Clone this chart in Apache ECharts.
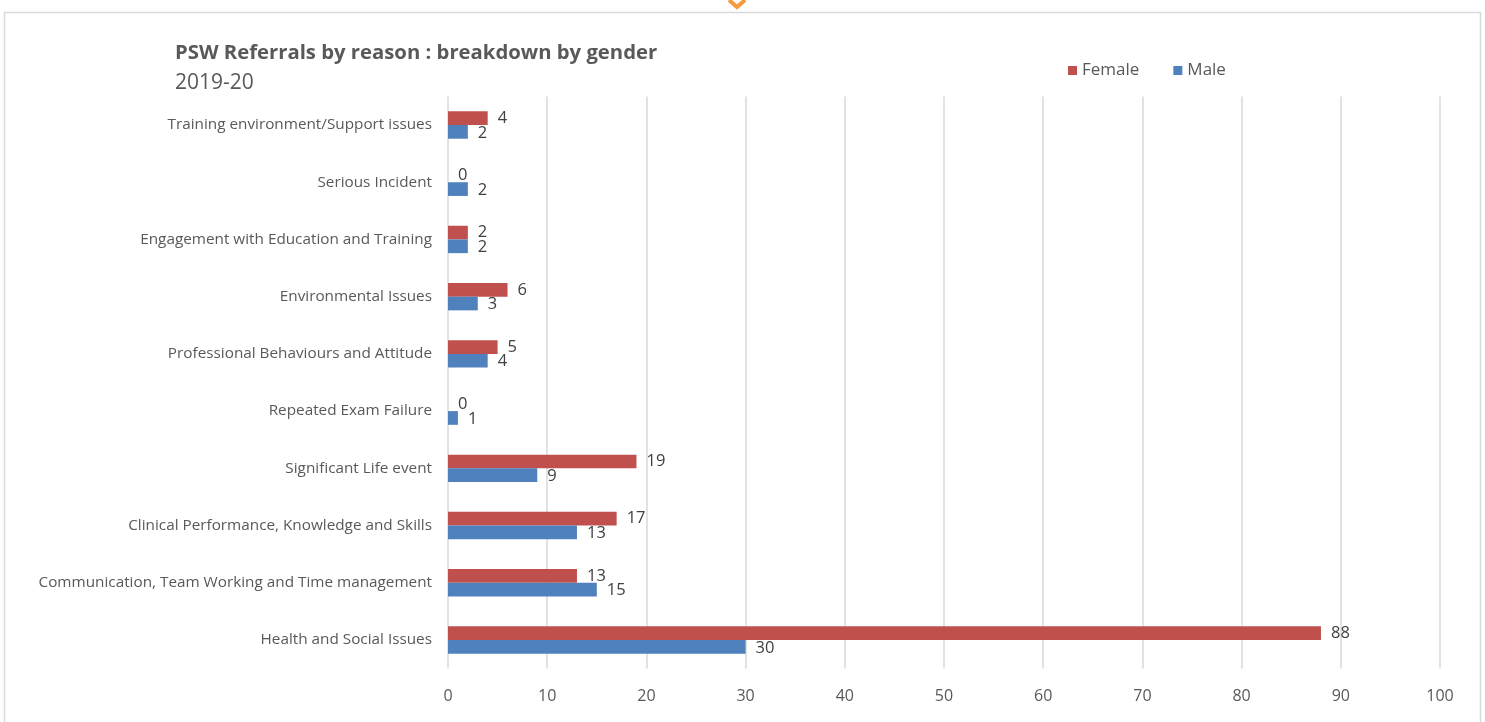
<!DOCTYPE html>
<html>
<head>
<meta charset="utf-8">
<script src="https://cdn.jsdelivr.net/npm/echarts@6/dist/echarts.min.js"></script>
<style>
html,body{margin:0;padding:0;background:#fff;}
#chart{width:1485px;height:722px;}
</style>
</head>
<body>
<div id="chart"></div>
<script>
const categories = [
  'Health and Social Issues',
  'Communication, Team Working and Time management',
  'Clinical Performance, Knowledge and Skills',
  'Significant Life event',
  'Repeated Exam Failure',
  'Professional Behaviours and Attitude',
  'Environmental Issues',
  'Engagement with Education and Training',
  'Serious Incident',
  'Training environment/Support issues'
];
const femaleValues = [88, 13, 17, 19, 0, 5, 6, 2, 0, 4];
const maleValues = [30, 15, 13, 9, 1, 4, 3, 2, 2, 2];
const xTicks = {min: 0, max: 100, interval: 10};

const FONT = '"Open Sans", "Noto Sans", sans-serif';
const chart = echarts.init(document.getElementById('chart'));
chart.setOption({
  animation: false,
  textStyle: {fontFamily: FONT},
  graphic: [
    {type: 'rect', shape: {x: 4.5, y: 12.5, width: 1476, height: 720}, style: {fill: 'none', stroke: '#d9d9d9', lineWidth: 1.5}, z: 0},
    {type: 'polyline', shape: {points: [[729, 0], [737, 7], [745, 0]]}, style: {stroke: '#f59a3f', lineWidth: 4, fill: 'none'}, z: 10},
    {type: 'text', left: 175, top: 43, style: {text: 'PSW Referrals by reason : breakdown by gender', font: 'bold 20.3px ' + FONT, fill: '#595959'}},
    {type: 'text', left: 175, top: 73, style: {text: '2019-20', font: '21px ' + FONT, fill: '#595959'}}
  ],
  legend: {
    data: ['Female', 'Male'],
    left: 1063, top: 57,
    itemWidth: 9, itemHeight: 9, itemGap: 34,
    icon: 'rect',
    textStyle: {fontSize: 17, color: '#595959', fontFamily: FONT}
  },
  grid: {left: 448, right: 45, top: 96.4, bottom: 53.4, containLabel: false},
  xAxis: {
    type: 'value', min: xTicks.min, max: xTicks.max, interval: xTicks.interval,
    axisLine: {show: false}, axisTick: {show: false},
    axisLabel: {fontSize: 16, color: '#595959', margin: 20, fontFamily: FONT},
    splitLine: {lineStyle: {color: '#d9d9d9', width: 1.5}}
  },
  yAxis: {
    type: 'category', data: categories,
    axisLine: {show: false}, axisTick: {show: false},
    axisLabel: {fontSize: 15.3, color: '#595959', margin: 16, fontFamily: FONT}
  },
  series: [
    {
      name: 'Female', type: 'bar', data: femaleValues,
      barWidth: 13.7, barGap: '0%',
      itemStyle: {color: '#c0504d'},
      label: {show: true, position: 'right', distance: 10, fontSize: 16.5, color: '#404040', fontFamily: FONT, offset: [0, 0]}
    },
    {
      name: 'Male', type: 'bar', data: maleValues,
      barWidth: 13.7,
      itemStyle: {color: '#4f81bd'},
      label: {show: true, position: 'right', distance: 10, fontSize: 16.5, color: '#404040', fontFamily: FONT, offset: [0, 1]}
    }
  ]
});
</script>
</body>
</html>
